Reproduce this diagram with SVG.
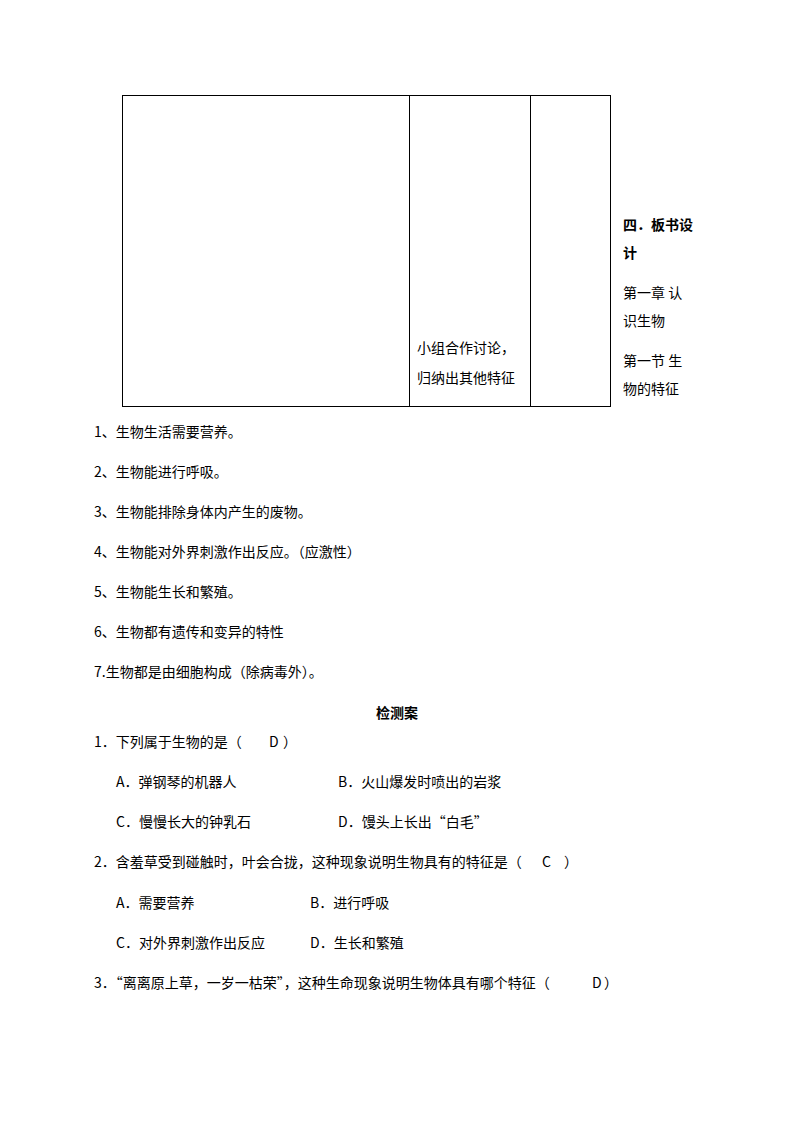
<svg xmlns="http://www.w3.org/2000/svg" width="794" height="1123" viewBox="0 0 794 1123">
<style>
text { font-family: "Noto Sans CJK SC", "Noto Sans", sans-serif; font-size: 14px; fill: #000; }
.b { font-weight: bold; }
.ln { stroke: #000; stroke-width: 1; fill: none; }
</style>
<rect width="794" height="1123" fill="#fff"/>
<g id="table">
  <rect class="ln" x="122.5" y="95.5" width="488" height="311"/>
  <line class="ln" x1="409.5" y1="95.5" x2="409.5" y2="406.5"/>
  <line class="ln" x1="530.5" y1="95.5" x2="530.5" y2="406.5"/>
  <text x="417" y="353">小组合作讨论，</text>
  <text x="417" y="383">归纳出其他特征</text>
</g>
<g id="board">
  <text class="b" x="623" y="230">四．板书设</text>
  <text class="b" x="623" y="258">计</text>
  <text x="623" y="298">第一章 认</text>
  <text x="623" y="326">识生物</text>
  <text x="623" y="366">第一节 生</text>
  <text x="623" y="394">物的特征</text>
</g>
<g id="list">
  <text x="94" y="437">1、生物生活需要营养。</text>
  <text x="94" y="477">2、生物能进行呼吸。</text>
  <text x="94" y="517">3、生物能排除身体内产生的废物。</text>
  <text x="94" y="557">4、生物能对外界刺激作出反应。（应激性）</text>
  <text x="94" y="597">5、生物能生长和繁殖。</text>
  <text x="94" y="637">6、生物都有遗传和变异的特性</text>
  <text x="94" y="677">7.生物都是由细胞构成（除病毒外）。</text>
</g>
<g id="test">
  <text class="b" x="397" y="718" text-anchor="middle">检测案</text>
  <text x="94" y="747">1．下列属于生物的是（<tspan x="269">D</tspan><tspan x="283">）</tspan></text>
  <text x="116" y="787">A．弹钢琴的机器人</text>
  <text x="338" y="787">B．火山爆发时喷出的岩浆</text>
  <text x="116" y="827">C．慢慢长大的钟乳石</text>
  <text x="338" y="827">D．馒头上长出“白毛”</text>
  <text x="94" y="867">2．含羞草受到碰触时，叶会合拢，这种现象说明生物具有的特征是（<tspan x="542">C</tspan><tspan x="564">）</tspan></text>
  <text x="116" y="908">A．需要营养</text>
  <text x="310" y="908">B．进行呼吸</text>
  <text x="116" y="948">C．对外界刺激作出反应</text>
  <text x="310" y="948">D．生长和繁殖</text>
  <text x="94" y="988">3．“离离原上草，一岁一枯荣”，这种生命现象说明生物体具有哪个特征（<tspan x="592">D</tspan><tspan x="604">）</tspan></text>
</g>
</svg>
